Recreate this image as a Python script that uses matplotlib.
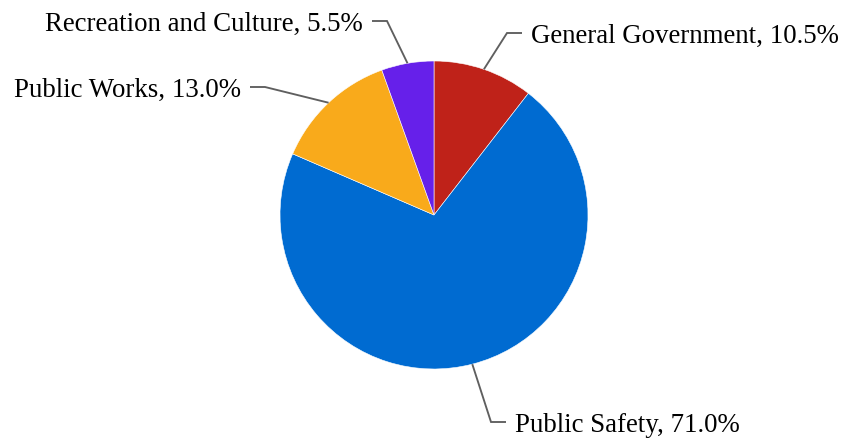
import matplotlib
matplotlib.use("Agg")
import matplotlib.pyplot as plt
import numpy as np

# Budget shares by department (%)
categories = ["General Government", "Public Safety", "Public Works", "Recreation and Culture"]
shares = [10.5, 71.0, 13.0, 5.5]
colors = ["#BF2219", "#006BD1", "#F9AA1B", "#6620EA"]

W, H = 843, 439
fig = plt.figure(figsize=(W / 100, H / 100), dpi=100)
ax = fig.add_axes([0, 0, 1, 1])

cx, cy, R = 434, H - 216, 154
wedges, _ = ax.pie(shares, colors=colors, startangle=90, counterclock=False,
                   center=(cx, cy), radius=R, frame=True,
                   wedgeprops=dict(edgecolor="white", linewidth=0.4))
ax.set_xlim(0, W)
ax.set_ylim(0, H)
ax.set_aspect("equal")
ax.axis("off")

# Elbow points of the leader lines (pixels from top-left) and label side
elbows = [(507, 34), (491, 423), (265, 88), (387, 22)]
sides = [1, 1, -1, -1]
seg = 15
gap = 9

for w, name, val, (ex, ey), side in zip(wedges, categories, shares, elbows, sides):
    mid = np.deg2rad((w.theta1 + w.theta2) / 2)
    px, py = cx + R * np.cos(mid), cy + R * np.sin(mid)
    ey = H - ey
    hx = ex + side * seg
    ax.plot([px, ex, hx], [py, ey, ey], color="#5f5f5f", lw=1.35,
            solid_capstyle="butt", solid_joinstyle="miter")
    ax.text(hx + side * gap, ey - 8.7, f"{name}, {val:.1f}%",
            ha="left" if side > 0 else "right", va="baseline",
            fontsize=19.4, family="Liberation Serif", color="#000000")

fig.savefig("out.png", dpi=100)
